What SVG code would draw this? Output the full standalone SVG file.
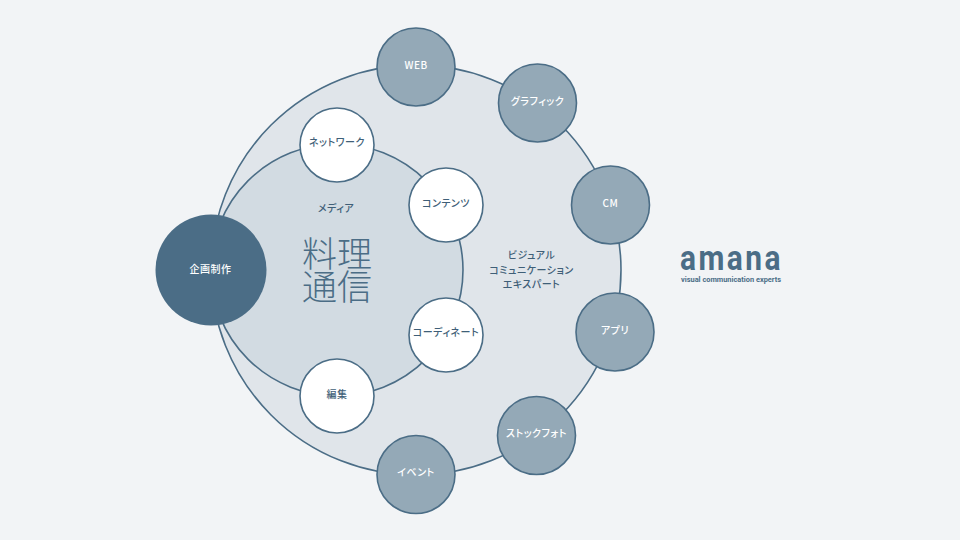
<svg xmlns="http://www.w3.org/2000/svg" width="960" height="540" viewBox="0 0 960 540">
<style>
text{font-family:"Noto Sans CJK JP","Noto Sans",sans-serif;text-anchor:middle}
.l{font-size:10px;font-weight:500;fill:#3f5f78;letter-spacing:.5px;font-feature-settings:"palt"}
.w{font-size:10px;font-weight:500;fill:#fff;letter-spacing:.5px;font-feature-settings:"palt"}
.c{stroke:#4b6d86;stroke-width:1.6}
.g{fill:#94a9b7}
.k{fill:#fff}
</style>
<rect width="960" height="540" fill="#f2f4f6"/>
<g id="connectors">
<circle cx="416" cy="270" r="205" fill="#e0e5ea" class="c"/>
<circle cx="337" cy="270" r="126" fill="#d2dbe2" class="c"/>
</g>
<g id="media-label"><text class="l" x="336" y="212">メディア</text></g>
<g id="title"><text x="337" y="267" font-size="35" fill="#4b6d86" font-weight="300">料理</text><text x="337" y="300" font-size="35" fill="#4b6d86" font-weight="300">通信</text></g>
<g id="experts-label"><text class="l" x="531.500" y="259">ビジュアル</text><text class="l" x="531.500" y="274">コミュニケーション</text><text class="l" x="531.500" y="288">エキスパート</text></g>
<g id="planning"><circle cx="211" cy="270" r="55.500" fill="#4b6d86"/><text class="w" x="210.500" y="273">企画制作</text></g>
<g id="network"><circle cx="337" cy="145" r="37" class="c k"/><text class="l" x="337" y="146">ネットワーク</text></g>
<g id="contents"><circle cx="446" cy="205" r="37" class="c k"/><text class="l" x="446" y="207">コンテンツ</text></g>
<g id="coordinate"><circle cx="446" cy="335" r="37" class="c k"/><text class="l" x="446" y="336">コーディネート</text></g>
<g id="edit"><circle cx="337" cy="396" r="37" class="c k"/><text class="l" x="337" y="398">編集</text></g>
<g id="web"><circle cx="416" cy="67" r="39" class="c g"/><text class="w" x="416" y="69">WEB</text></g>
<g id="graphic"><circle cx="537.500" cy="103" r="39" class="c g"/><text class="w" x="537.500" y="105">グラフィック</text></g>
<g id="cm"><circle cx="610.500" cy="205" r="39" class="c g"/><text class="w" x="610.500" y="207">CM</text></g>
<g id="app"><circle cx="615" cy="332" r="39" class="c g"/><text class="w" x="615" y="334">アプリ</text></g>
<g id="stock"><circle cx="536.500" cy="435.500" r="39" class="c g"/><text class="w" x="536.500" y="437">ストックフォト</text></g>
<g id="event"><circle cx="416" cy="474.500" r="39" class="c g"/><text class="w" x="416" y="476">イベント</text></g>
<g id="logo"><text transform="translate(680,270) scale(.83,1)" font-size="36" font-weight="700" fill="#4b6d86" letter-spacing="3" style='font-family:"Roboto",sans-serif;text-anchor:start'>amana</text><text x="731" y="282" font-size="7.500" font-weight="700" fill="#4b6d86" style='font-family:"Roboto",sans-serif' textLength="100" lengthAdjust="spacingAndGlyphs">visual communication experts</text></g>
</svg>
